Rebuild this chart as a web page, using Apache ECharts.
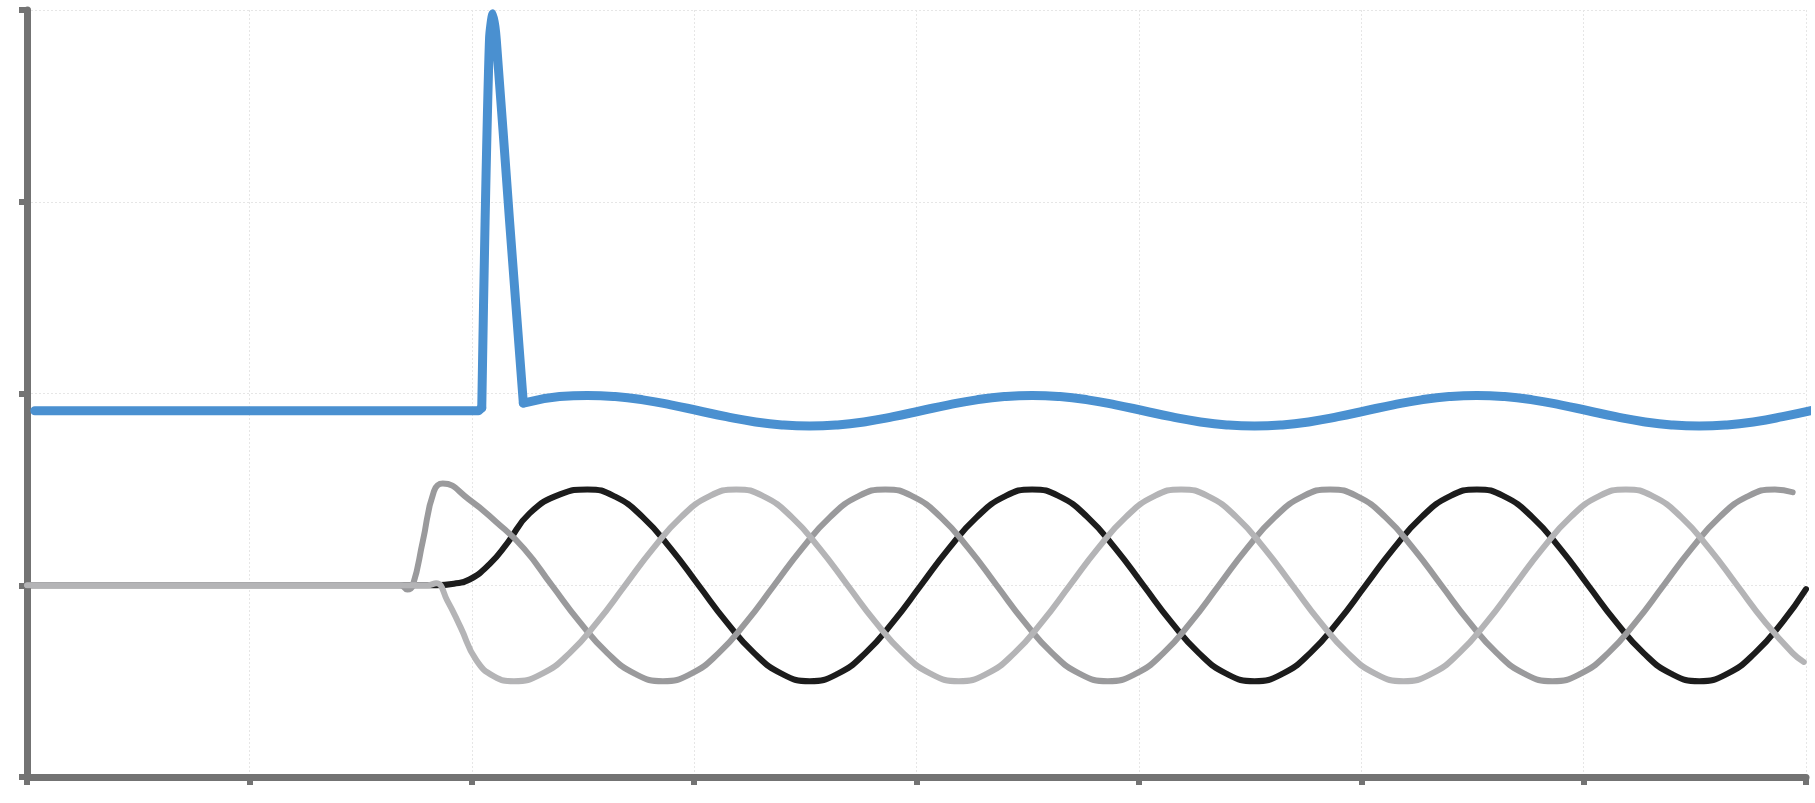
<!DOCTYPE html>
<html>
<head>
<meta charset="utf-8">
<script src="https://cdn.jsdelivr.net/npm/echarts@6/dist/echarts.min.js"></script>
<style>
html,body{margin:0;padding:0;background:#fff;}
#chart{width:1815px;height:803px;}
</style>
</head>
<body>
<div id="chart"></div>
<script>
// x ticks 0..8, y ticks 0..4 (no labels shown)
var xTicks = [0, 1, 2, 3, 4, 5, 6, 7, 8];
var yTicks = [0, 1, 2, 3, 4];

var blueFlat = [
  [0.035, 1.91], [2.03, 1.91], [2.045, 1.925]
];
var blueSpike = [
  [2.045, 1.925], [2.06, 2.9], [2.08, 3.85], [2.095, 3.98], [2.11, 3.85], [2.17, 2.9], [2.232, 1.95]
];
var blueWave = [
  [2.232, 1.95], [2.395, 1.984], [2.52, 1.99], [2.645, 1.984], [2.77, 1.967], [2.895, 1.941],
  [3.02, 1.91], [3.145, 1.879], [3.27, 1.853], [3.395, 1.836], [3.52, 1.83], [3.645, 1.836],
  [3.77, 1.853], [3.895, 1.879], [4.02, 1.91], [4.145, 1.941], [4.27, 1.967], [4.395, 1.984],
  [4.52, 1.99], [4.645, 1.984], [4.77, 1.967], [4.895, 1.941], [5.02, 1.91], [5.145, 1.879],
  [5.27, 1.853], [5.395, 1.836], [5.52, 1.83], [5.645, 1.836], [5.77, 1.853], [5.895, 1.879],
  [6.02, 1.91], [6.145, 1.941], [6.27, 1.967], [6.395, 1.984], [6.52, 1.99], [6.645, 1.984],
  [6.77, 1.967], [6.895, 1.941], [7.02, 1.91], [7.145, 1.879], [7.27, 1.853], [7.395, 1.836],
  [7.52, 1.83], [7.645, 1.836], [7.77, 1.853], [7.895, 1.879], [8.04, 1.915]
];

var blackSeries = [
  [0, 1.0], [1.84, 1.0], [1.92, 1.008], [1.99, 1.03], [2.08, 1.11], [2.16, 1.22], [2.26, 1.375], [2.4, 1.475],
  [2.52, 1.5], [2.645, 1.462], [2.77, 1.354], [2.895, 1.191], [3.02, 1.0], [3.145, 0.809], [3.27, 0.646],
  [3.395, 0.538], [3.52, 0.5], [3.645, 0.538], [3.77, 0.646], [3.895, 0.809], [4.02, 1.0], [4.145, 1.191],
  [4.27, 1.354], [4.395, 1.462], [4.52, 1.5], [4.645, 1.462], [4.77, 1.354], [4.895, 1.191], [5.02, 1.0],
  [5.145, 0.809], [5.27, 0.646], [5.395, 0.538], [5.52, 0.5], [5.645, 0.538], [5.77, 0.646], [5.895, 0.809],
  [6.02, 1.0], [6.145, 1.191], [6.27, 1.354], [6.395, 1.462], [6.52, 1.5], [6.645, 1.462], [6.77, 1.354],
  [6.895, 1.191], [7.02, 1.0], [7.145, 0.809], [7.27, 0.646], [7.395, 0.538], [7.52, 0.5], [7.645, 0.538],
  [7.77, 0.646], [7.895, 0.809], [8.0, 0.98]
];

var lightGraySeries = [
  [0, 1.0], [1.8, 1.0], [1.84, 1.01], [1.89, 0.92], [1.95, 0.78], [2.02, 0.61], [2.1, 0.525], [2.19, 0.5],
  [2.315, 0.538], [2.44, 0.646], [2.565, 0.809], [2.69, 1.0], [2.815, 1.191], [2.94, 1.354], [3.065, 1.462],
  [3.19, 1.5], [3.315, 1.462], [3.44, 1.354], [3.565, 1.191], [3.69, 1.0], [3.815, 0.809], [3.94, 0.646],
  [4.065, 0.538], [4.19, 0.5], [4.315, 0.538], [4.44, 0.646], [4.565, 0.809], [4.69, 1.0], [4.815, 1.191],
  [4.94, 1.354], [5.065, 1.462], [5.19, 1.5], [5.315, 1.462], [5.44, 1.354], [5.565, 1.191], [5.69, 1.0],
  [5.815, 0.809], [5.94, 0.646], [6.065, 0.538], [6.19, 0.5], [6.315, 0.538], [6.44, 0.646], [6.565, 0.809],
  [6.69, 1.0], [6.815, 1.191], [6.94, 1.354], [7.065, 1.462], [7.19, 1.5], [7.315, 1.462], [7.44, 1.354],
  [7.565, 1.191], [7.69, 1.0], [7.815, 0.809], [7.94, 0.646], [7.99, 0.6]
];

var darkGraySeries = [
  [0, 1.0], [1.68, 1.0], [1.71, 0.978], [1.735, 1.0], [1.78, 1.23], [1.83, 1.49], [1.87, 1.53], [1.985, 1.45],
  [2.11, 1.33], [2.235, 1.191], [2.36, 1.0], [2.485, 0.809], [2.61, 0.646], [2.735, 0.538], [2.86, 0.5],
  [2.985, 0.538], [3.11, 0.646], [3.235, 0.809], [3.36, 1.0], [3.485, 1.191], [3.61, 1.354], [3.735, 1.462],
  [3.86, 1.5], [3.985, 1.462], [4.11, 1.354], [4.235, 1.191], [4.36, 1.0], [4.485, 0.809], [4.61, 0.646],
  [4.735, 0.538], [4.86, 0.5], [4.985, 0.538], [5.11, 0.646], [5.235, 0.809], [5.36, 1.0], [5.485, 1.191],
  [5.61, 1.354], [5.735, 1.462], [5.86, 1.5], [5.985, 1.462], [6.11, 1.354], [6.235, 1.191], [6.36, 1.0],
  [6.485, 0.809], [6.61, 0.646], [6.735, 0.538], [6.86, 0.5], [6.985, 0.538], [7.11, 0.646], [7.235, 0.809],
  [7.36, 1.0], [7.485, 1.191], [7.61, 1.354], [7.735, 1.462], [7.86, 1.5], [7.94, 1.485]
];

var chart = echarts.init(document.getElementById('chart'));
var axisGray = '#737373';
var gridGray = '#e6e6e6';

function lineSeries(name, data, color, width, smoothVal) {
  return {
    name: name, type: 'line', data: data, showSymbol: false, symbol: 'none',
    smooth: smoothVal, clip: false,
    lineStyle: { color: color, width: width, cap: 'round', join: 'round' },
    animation: false
  };
}

chart.setOption({
  backgroundColor: '#ffffff',
  animation: false,
  grid: { left: 27, right: 9, top: 10, bottom: 26, containLabel: false },
  xAxis: {
    type: 'value', min: xTicks[0], max: xTicks[xTicks.length - 1], interval: 1,
    axisLine: { show: true, onZero: false, lineStyle: { color: axisGray, width: 7 } },
    axisTick: { show: true, length: 8, lineStyle: { color: axisGray, width: 6 } },
    axisLabel: { show: false },
    splitLine: { show: true, lineStyle: { color: gridGray, width: 1, type: [2, 2] } }
  },
  yAxis: {
    type: 'value', min: yTicks[0], max: yTicks[yTicks.length - 1], interval: 1,
    axisLine: { show: true, onZero: false, lineStyle: { color: axisGray, width: 7 } },
    axisTick: { show: true, length: 8, lineStyle: { color: axisGray, width: 6 } },
    axisLabel: { show: false },
    splitLine: { show: true, lineStyle: { color: gridGray, width: 1, type: [2, 2] } }
  },
  series: [
    lineSeries('black', blackSeries, '#1c1c1c', 6, 0.5),
    lineSeries('darkgray', darkGraySeries, '#9a9a9c', 6, 0.5),
    lineSeries('lightgray', lightGraySeries, '#b4b4b6', 6, 0.5),
    lineSeries('blueFlat', blueFlat, '#4a90d0', 9, false),
    lineSeries('blueSpike', blueSpike, '#4a90d0', 9, 0.25),
    lineSeries('blueWave', blueWave, '#4a90d0', 9, 0.5)
  ]
});
</script>
</body>
</html>
